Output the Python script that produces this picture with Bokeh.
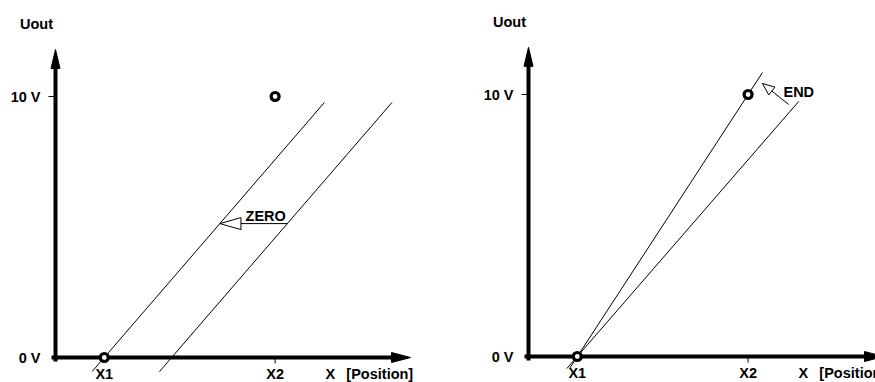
import math
from bokeh.plotting import figure
from bokeh.layouts import row
from bokeh.models import Range1d
from bokeh.core.properties import value
from bokeh.embed import file_html
from bokeh.resources import INLINE

# ---------------- data (x in position units, y in volts) ----------------
x1_pos = 2.0
x2_pos = 9.0
v_ticks = [0, 10]
v_tick_labels = ["0 V", "10 V"]
x_tick_labels = ["X1", "X2"]
axis_x_end = 14.55
axis_v_end = 11.8
y_title = "Uout"
x_title = "X"
x_unit = "[Position]"

# left panel: characteristic shifted by ZERO
zero_line_a_x = [1.50, 11.02]
zero_line_a_v = [-0.54, 9.77]
zero_line_b_x = [4.26, 13.79]
zero_line_b_v = [-0.54, 9.77]
zero_arrow_x = [9.50, 6.74]
zero_arrow_v = [5.13, 5.13]
zero_label = "ZERO"
zero_label_pos = (7.79, 5.42)

# right panel: slope changed by END
end_line_steep_x = [1.68, 9.59]
end_line_steep_v = [-0.46, 10.84]
end_line_flat_x = [1.57, 11.07]
end_line_flat_v = [-0.46, 9.73]
end_arrow_x = [10.66, 9.59]
end_arrow_v = [9.62, 10.42]
end_label = "END"
end_label_pos = (10.45, 10.08)

# ---------------- layout / style ----------------
KX = 24.4          # px per position unit
FONT = value("Liberation Sans")
FSIZE = "14.5px"
H = 382


def arrow(p, xs, ys, kx, ky, length, half, lw, fill, cap="butt"):
    dxp = (xs[1] - xs[0]) * kx
    dyp = (ys[1] - ys[0]) * ky
    L = math.hypot(dxp, dyp)
    ux, uy = dxp / L, dyp / L
    bx = xs[1] - ux * length / kx
    by = ys[1] - uy * length / ky
    px, py = -uy, ux
    p.line([xs[0], bx], [ys[0], by], line_color="black", line_width=lw, line_cap=cap)
    p.patch([xs[1], bx + px * half / kx, bx - px * half / kx],
            [ys[1], by + py * half / ky, by - py * half / ky],
            fill_color=fill, line_color="black", line_width=1, line_join="miter")


def panel(width, origin_px, zero_px_from_bottom, ky):
    x0 = -origin_px / KX
    y0 = -zero_px_from_bottom / ky
    p = figure(width=width, height=H, output_backend="svg", toolbar_location=None,
               x_range=Range1d(x0, x0 + width / KX), y_range=Range1d(y0, y0 + H / ky),
               x_axis_location=None, y_axis_location=None, min_border=0)
    p.grid.visible = False
    p.outline_line_color = None
    p.background_fill_color = "white"
    p.border_fill_color = "white"

    # axes with arrowheads
    arrow(p, [0, 0], [-2 / ky, axis_v_end], KX, ky, 19, 4.5, 4, "black", cap="square")
    arrow(p, [-2 / KX, axis_x_end], [0, 0], KX, ky, 19, 5, 4, "black", cap="square")

    # 10 V tick (outward, left) and X2 tick (down)
    p.segment(x0=[-7 / KX], y0=[v_ticks[1]], x1=[0], y1=[v_ticks[1]], line_color="black", line_width=1)
    p.segment(x0=[x2_pos], y0=[0], x1=[x2_pos], y1=[-6 / ky], line_color="black", line_width=1)

    # tick labels
    p.text(x=[0, 0], y=v_ticks, text=v_tick_labels, x_offset=-15, text_align="right",
           text_baseline="middle", text_font=FONT, text_font_style="bold", text_font_size=FSIZE,
           text_color="black")
    p.text(x=[x1_pos, x2_pos], y=[0, 0], text=x_tick_labels, y_offset=8, text_align="center",
           text_baseline="top", text_font=FONT, text_font_style="bold", text_font_size=FSIZE,
           text_color="black")
    p.text(x=[11.07, 11.92], y=[0, 0], text=[x_title, x_unit], y_offset=8, text_align="left",
           text_baseline="top", text_font=FONT, text_font_style="bold", text_font_size=FSIZE,
           text_color="black")
    p.text(x=[-0.78], y=[12.78], text=[y_title], text_align="center", text_baseline="alphabetic",
           text_font=FONT, text_font_style="bold", text_font_size=FSIZE, text_color="black")
    return p


# left panel: page x 0..440, y-axis at page x 55, 0 V at page y 357
p1 = panel(440, 55, 25, 26.1)
p1.line(zero_line_a_x, zero_line_a_v, line_color="black", line_width=1)
p1.line(zero_line_b_x, zero_line_b_v, line_color="black", line_width=1)
arrow(p1, zero_arrow_x, zero_arrow_v, KX, 26.1, 21, 6, 1, "white")
p1.text(x=[zero_label_pos[0]], y=[zero_label_pos[1]], text=[zero_label], text_align="left",
        text_baseline="alphabetic", text_font=FONT, text_font_style="bold", text_font_size=FSIZE,
        text_color="black")
p1.scatter([x1_pos, x2_pos], [0, 10], size=8, marker="circle", fill_color="white",
           line_color="black", line_width=3.2)

# right panel: page x 440..875, y-axis at page x 528, 0 V at page y 356
p2 = panel(435, 88, 26, 26.2)
p2.line(end_line_steep_x, end_line_steep_v, line_color="black", line_width=1)
p2.line(end_line_flat_x, end_line_flat_v, line_color="black", line_width=1)
arrow(p2, end_arrow_x, end_arrow_v, KX, 26.2, 12, 5, 1, "white")
p2.text(x=[end_label_pos[0]], y=[end_label_pos[1]], text=[end_label], text_align="left",
        text_baseline="alphabetic", text_font=FONT, text_font_style="bold", text_font_size=FSIZE,
        text_color="black")
p2.scatter([x1_pos, x2_pos], [0, 10], size=8, marker="circle", fill_color="white",
           line_color="black", line_width=3.2)

layout = row(p1, p2, spacing=0)
open("out.html", "w").write(file_html(layout, INLINE))
